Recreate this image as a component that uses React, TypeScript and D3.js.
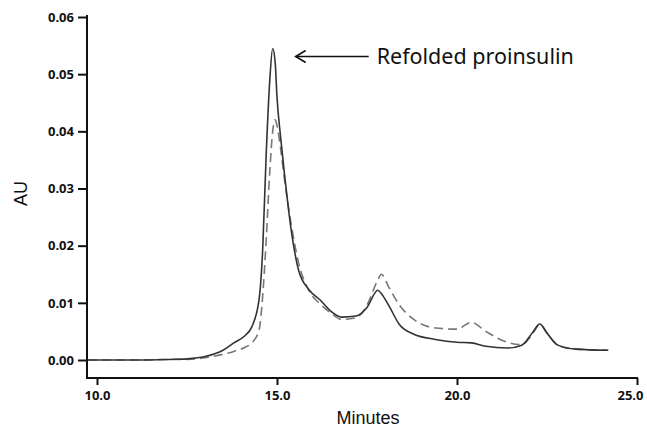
import { useEffect, useRef } from "react";
import * as d3 from "d3";

// retention time (minutes) and absorbance
const minutes = [
  9.75, 10, 11, 12, 12.5, 13, 13.5, 13.8, 14.1, 14.3, 14.5, 14.6, 14.7, 14.8, 14.88, 14.95,
  15.0, 15.1, 15.2, 15.4, 15.6, 15.9, 16.2, 16.5, 16.8, 17.2, 17.5, 17.8, 17.9, 18.1, 18.4,
  18.8, 19.4, 20.0, 20.4, 20.8, 21.4, 21.8, 22.1, 22.3, 22.5, 22.8, 23.3, 24.2,
];
const solidAU = [
  0, 0, 0, 0.0001, 0.0002, 0.0006, 0.0017, 0.003, 0.0042, 0.0058, 0.0105, 0.019, 0.036, 0.049,
  0.0545, 0.052, 0.046, 0.039, 0.033, 0.0225, 0.0157, 0.0122, 0.0105, 0.0085, 0.0075, 0.0077,
  0.0092, 0.0122, 0.0116, 0.0096, 0.0062, 0.0045, 0.0036, 0.0031, 0.003, 0.0024, 0.0021, 0.0026,
  0.0048, 0.0063, 0.0047, 0.0026, 0.0019, 0.0017,
];
const dashedAU = [
  0, 0, 0, 0.0001, 0.0001, 0.0004, 0.001, 0.0015, 0.0022, 0.003, 0.0052, 0.011, 0.021, 0.033,
  0.04, 0.042, 0.041, 0.037, 0.032, 0.0235, 0.017, 0.012, 0.0098, 0.0082, 0.0071, 0.0074,
  0.0096, 0.014, 0.015, 0.0128, 0.0096, 0.0071, 0.0056, 0.0054, 0.0066, 0.005, 0.0031, 0.0027,
  0.0046, 0.0063, 0.0047, 0.0026, 0.0019, 0.0017,
];
const xTicks = [10, 15, 20, 25];
const yTicks = [0, 0.01, 0.02, 0.03, 0.04, 0.05, 0.06];
const annotation = "Refolded proinsulin";

const W = 647;
const H = 430;

export default function App() {
  const ref = useRef<SVGSVGElement>(null);

  useEffect(() => {
    const svg = d3.select(ref.current);
    svg.selectAll("*").remove();

    const x = d3.scaleLinear().domain([10, 25]).range([97, 637]);
    const y = d3.scaleLinear().domain([0, 0.06]).range([360, 17]);
    const axisX = 87;
    const axisY = 378;

    // y axis
    const gy = svg
      .append("g")
      .attr("transform", `translate(${axisX},0)`)
      .call(
        d3.axisLeft(y).tickValues(yTicks).tickFormat(d3.format(".2f")).tickSize(9).tickPadding(4)
      );
    gy.select(".domain").remove();
    gy.selectAll(".tick line").attr("stroke", "#111").attr("stroke-width", 2);
    gy.selectAll(".tick text")
      .attr("font-family", "'Open Sans', sans-serif")
      .attr("font-weight", "bold")
      .attr("font-size", 13)
      .attr("fill", "#111");

    // x axis
    const gx = svg
      .append("g")
      .attr("transform", `translate(0,${axisY})`)
      .call(
        d3.axisBottom(x).tickValues(xTicks).tickFormat(d3.format(".1f")).tickSize(7).tickPadding(6)
      );
    gx.select(".domain").remove();
    gx.selectAll(".tick line").attr("stroke", "#111").attr("stroke-width", 2);
    gx.selectAll(".tick text")
      .attr("font-family", "'Open Sans', sans-serif")
      .attr("font-weight", "bold")
      .attr("font-size", 13)
      .attr("fill", "#111");
    // last label sits a bit left so it stays inside the frame
    gx.selectAll<SVGTextElement, number>(".tick text")
      .filter((d) => d === 25)
      .attr("dx", -7);

    // axis lines
    svg.append("line")
      .attr("x1", axisX).attr("x2", axisX)
      .attr("y1", y(0.06) - 2).attr("y2", axisY + 1)
      .attr("stroke", "#111").attr("stroke-width", 2);
    svg.append("line")
      .attr("x1", axisX - 1).attr("x2", x(25) + 1)
      .attr("y1", axisY).attr("y2", axisY)
      .attr("stroke", "#111").attr("stroke-width", 2);

    // axis titles
    svg.append("text")
      .attr("x", 368).attr("y", 424)
      .attr("text-anchor", "middle")
      .attr("font-family", "'Liberation Sans', Arial, sans-serif")
      .attr("font-size", 18)
      .attr("fill", "#111")
      .text("Minutes");
    svg.append("text")
      .attr("transform", `translate(27,${y(0.03) + 5}) rotate(-90)`)
      .attr("text-anchor", "middle")
      .attr("font-family", "'Liberation Sans', Arial, sans-serif")
      .attr("font-size", 18)
      .attr("fill", "#111")
      .text("AU");

    const idx = d3.range(minutes.length);
    const line = (vals: number[]) =>
      d3.line<number>()
        .x((i) => x(minutes[i]))
        .y((i) => y(vals[i]))
        .curve(d3.curveMonotoneX)(idx);

    svg.append("path")
      .attr("d", line(dashedAU))
      .attr("fill", "none")
      .attr("stroke", "#777")
      .attr("stroke-width", 1.6)
      .attr("stroke-dasharray", "9,5");

    svg.append("path")
      .attr("d", line(solidAU))
      .attr("fill", "none")
      .attr("stroke", "#333")
      .attr("stroke-width", 1.6);

    // annotation arrow pointing at main peak
    const peakI = d3.maxIndex(solidAU);
    const tipX = x(minutes[peakI]) + 23;
    const tipY = y(solidAU[peakI]) + 8;
    svg.append("line")
      .attr("x1", tipX).attr("x2", tipX + 73)
      .attr("y1", tipY).attr("y2", tipY)
      .attr("stroke", "#111").attr("stroke-width", 1.6);
    svg.append("path")
      .attr("d", `M${tipX + 10},${tipY - 6}L${tipX},${tipY}L${tipX + 10},${tipY + 6}`)
      .attr("fill", "none")
      .attr("stroke", "#111")
      .attr("stroke-width", 1.6);
    svg.append("text")
      .attr("x", tipX + 81).attr("y", tipY + 8)
      .attr("font-family", "'Noto Sans', sans-serif")
      .attr("font-size", 21.5)
      .attr("fill", "#111")
      .text(annotation);
  }, []);

  return (
    <svg
      ref={ref}
      width={W}
      height={H}
      style={{ position: "absolute", left: 0, top: 0, background: "#fff" }}
    />
  );
}
